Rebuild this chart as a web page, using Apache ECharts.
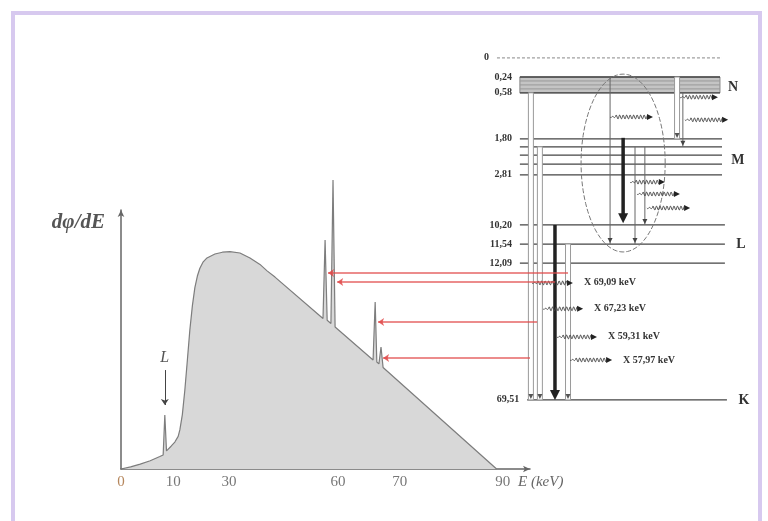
<!DOCTYPE html>
<html lang="en">
<head>
<meta charset="UTF-8">
<title>Spectre X et niveaux</title>
<script src="https://cdn.jsdelivr.net/npm/echarts@6/dist/echarts.min.js"></script>
<style>
body { margin: 0; background: #fff; }
.frame { position: absolute; left: 11px; top: 11px; width: 743px; height: 540px; border: 4px solid #d7c9ef; }
#main { position: absolute; left: 0; top: 0; width: 768px; height: 521px; }
</style>
</head>
<body>
<div class="frame"></div>
<div id="main"></div>
<script>
// spectrum: x in drawn keV, y in relative intensity
var specE = [0, 2.3, 4.6, 7.0, 9.3, 10.1, 10.5, 10.9, 12.0, 12.9, 13.7, 14.1, 14.7, 15.3, 15.9, 16.5, 17.1, 17.7, 18.3, 18.9, 19.7, 20.6, 22.5, 24.3, 26.1, 28.5, 30.9, 33.3, 35.0, 36.9, 48.4, 48.9, 49.4, 50.3, 50.8, 51.3, 60.4, 60.9, 61.3, 61.8, 62.3, 62.8, 90];
var specI = [0, 0.8, 1.9, 3.2, 4.8, 5.4, 20.8, 7.0, 8.8, 10.4, 12.6, 15.1, 21, 30.5, 42, 53.7, 63, 70.0, 74.5, 77.5, 80.0, 81.5, 83.0, 83.7, 83.9, 83.4, 81.5, 79.0, 76.5, 74.1, 58.1, 88.4, 57.4, 56.2, 111.6, 54.8, 42.1, 64.5, 41.3, 40.6, 47.1, 39.2, 0];
var xTickAt = [0, 12.5, 25.9, 52.0, 66.8, 91.5];
var xTickText = ['0', '10', '30', '60', '70', '90'];

// red arrows from the level scheme to the K peaks
var xrayFrom = [107.1, 104.0, 99.7, 98.0];
var xrayTo = [49.6, 51.8, 61.6, 62.8];
var xrayAt = [75.7, 72.2, 56.8, 42.9];

// "L" arrow: x, y start, y end
var lMark = [10.5, 38.2, 24.7];

// level scheme (schematic units)
var levelLabel = ['0', '0,24', '0,58', '1,80', '', '', '', '2,81', '10,20', '11,54', '12,09', '69,51'];
var levelY = [2.2, 7.5, 11.9, 24.7, 26.9, 29.2, 31.7, 34.7, 48.6, 53.9, 59.2, 97.2];
var levelX0 = [9.3, 17.2, 17.2, 17.2, 17.2, 17.2, 17.2, 17.2, 17.2, 17.2, 17.2, 19.7];
var levelX1 = [86.9, 86.2, 86.2, 86.9, 86.9, 86.9, 86.9, 86.9, 87.9, 87.9, 87.9, 88.6];
var nBand = [17.2, 86.2, 7.5, 11.9];
var shellName = ['N', 'M', 'L', 'K'];
var shellX = [90.7, 92.4, 93.4, 94.5];
var shellY = [10.3, 30.6, 53.9, 97.2];
var transX = [21.0, 24.1, 29.3, 33.8, 48.3, 52.8, 56.9, 60.3, 71.4, 73.4];
var transTop = [11.9, 26.9, 48.6, 53.9, 7.5, 24.4, 26.9, 26.9, 7.5, 11.9];
var transBottom = [97.2, 97.2, 97.2, 97.2, 53.9, 48.1, 53.9, 48.6, 24.7, 26.9];
var transKind = [0, 0, 1, 0, 2, 1, 2, 2, 0, 2];
var photonX0 = [21.4, 25.2, 30.0, 34.5, 48.3, 55.2, 57.6, 61.0, 72.4, 74.1];
var photonX1 = [35.5, 39.0, 43.8, 49.0, 63.1, 67.2, 72.4, 75.9, 85.5, 89.0];
var photonY = [64.7, 71.9, 79.7, 86.1, 18.6, 36.7, 40.0, 43.9, 13.1, 19.4];
var photonLabel = ['X 69,09 keV', 'X 67,23 keV', 'X 59,31 keV', 'X 57,97 keV', '', '', '', '', '', ''];
var ellipse = [52.8, 31.4, 14.5, 24.7];

var serif = '"Liberation Serif", "DejaVu Serif", serif';
var myChart = echarts.init(document.getElementById('main'));

function tri(x, y, w, h, up) {
    var d = up ? -h : h;
    return [[x - w / 2, y - d], [x + w / 2, y - d], [x, y]];
}

function renderLevel(params, api) {
    var i = params.dataIndex;
    var a = api.coord([api.value(0), api.value(2)]);
    var b = api.coord([api.value(1), api.value(2)]);
    var kids = [{
        type: 'line',
        shape: { x1: a[0], y1: a[1], x2: b[0], y2: b[1] },
        style: { stroke: i === 0 ? '#888' : '#444', lineWidth: i === 0 ? 1 : 1.3, lineDash: i === 0 ? [3, 2] : null }
    }];
    if (levelLabel[i]) {
        kids.push({
            type: 'text', x: a[0] - 8, y: a[1],
            style: { text: levelLabel[i], align: 'right', verticalAlign: 'middle', font: 'bold 10px ' + serif, fill: '#333' }
        });
    }
    return { type: 'group', children: kids };
}

function renderBand(params, api) {
    var a = api.coord([api.value(0), api.value(2)]);
    var b = api.coord([api.value(1), api.value(3)]);
    var kids = [{
        type: 'rect', shape: { x: a[0], y: a[1], width: b[0] - a[0], height: b[1] - a[1] },
        style: { fill: '#c4c4c4', stroke: '#888', lineWidth: 1 }
    }];
    for (var k = 1; k < 4; k++) {
        var y = a[1] + (b[1] - a[1]) * k / 4;
        kids.push({ type: 'line', shape: { x1: a[0], y1: y, x2: b[0], y2: y }, style: { stroke: '#999', lineWidth: 1 } });
    }
    return { type: 'group', children: kids };
}

function renderTrans(params, api) {
    var kind = transKind[params.dataIndex];
    var t = api.coord([api.value(0), api.value(1)]);
    var b = api.coord([api.value(0), api.value(2)]);
    if (kind === 0) {
        return { type: 'group', children: [
            { type: 'rect', shape: { x: t[0] - 2.5, y: t[1], width: 5, height: b[1] - t[1] }, style: { fill: '#fff', stroke: '#9a9a9a', lineWidth: 1 } },
            { type: 'polygon', shape: { points: tri(b[0], b[1] - 1, 5, 5, false) }, style: { fill: '#555' } }
        ] };
    }
    if (kind === 1) {
        return { type: 'group', children: [
            { type: 'line', shape: { x1: t[0], y1: t[1], x2: b[0], y2: b[1] - 8 }, style: { stroke: '#222', lineWidth: 3.5 } },
            { type: 'polygon', shape: { points: tri(b[0], b[1], 10, 10, false) }, style: { fill: '#222' } }
        ] };
    }
    return { type: 'group', children: [
        { type: 'line', shape: { x1: t[0], y1: t[1], x2: b[0], y2: b[1] }, style: { stroke: '#666', lineWidth: 1 } },
        { type: 'polygon', shape: { points: tri(b[0], b[1] - 1, 5, 5, false) }, style: { fill: '#444' } }
    ] };
}

function renderPhoton(params, api) {
    var i = params.dataIndex;
    var p0 = api.coord([api.value(0), api.value(2)]);
    var p1 = api.coord([api.value(1), api.value(2)]);
    var len = p1[0] - p0[0] - 5;
    var pts = [];
    for (var s = 0; s <= len; s += 0.5) {
        var amp = s < 6 ? 0.6 : 2;
        pts.push([p0[0] + s, p0[1] + amp * Math.sin(s / 3.5 * 2 * Math.PI)]);
    }
    var kids = [
        { type: 'polyline', shape: { points: pts }, style: { stroke: '#444', lineWidth: 0.9, fill: null } },
        { type: 'polygon', shape: { points: [[p1[0], p1[1]], [p1[0] - 6, p1[1] - 3], [p1[0] - 6, p1[1] + 3]] }, style: { fill: '#222' } }
    ];
    if (photonLabel[i]) {
        kids.push({
            type: 'text', x: p1[0] + 11, y: p1[1],
            style: { text: photonLabel[i], align: 'left', verticalAlign: 'middle', font: 'bold 10px ' + serif, fill: '#333' }
        });
    }
    return { type: 'group', children: kids };
}

function renderEllipse(params, api) {
    var c = api.coord([api.value(0), api.value(1)]);
    var r = api.size([api.value(2), api.value(3)]);
    var pts = [];
    for (var k = 0; k < 120; k++) {
        var a = k / 120 * 2 * Math.PI;
        pts.push([c[0] + r[0] * Math.cos(a), c[1] + r[1] * Math.sin(a)]);
    }
    return { type: 'polygon', shape: { points: pts }, style: { fill: null, stroke: '#777', lineWidth: 1, lineDash: [5, 2] } };
}

function renderShell(params, api) {
    var p = api.coord([api.value(0), api.value(1)]);
    return { type: 'text', x: p[0], y: p[1], style: { text: shellName[params.dataIndex], align: 'center', verticalAlign: 'middle', font: 'bold 14px ' + serif, fill: '#333' } };
}

var option = {
    animation: false,
    grid: [
        { left: 121, top: 210, width: 409, height: 259, containLabel: false, outerBoundsMode: 'none' },
        { left: 470, top: 50, width: 290, height: 360, containLabel: false, outerBoundsMode: 'none' }
    ],
    xAxis: [
        {
            type: 'value', gridIndex: 0, min: 0, max: 98,
            name: 'E (keV)', nameLocation: 'end', nameGap: -12,
            nameTextStyle: { fontFamily: serif, fontStyle: 'italic', fontSize: 15, color: '#666', verticalAlign: 'top', lineHeight: 26 },
            axisLine: { lineStyle: { color: '#666', width: 1.5 }, symbol: ['none', 'arrow'], symbolSize: [5, 7] },
            axisTick: { show: false },
            splitLine: { show: false },
            axisLabel: {
                customValues: xTickAt, margin: 6, color: '#777', fontFamily: serif, fontSize: 15,
                formatter: function (v) {
                    var i = xTickAt.indexOf(v);
                    return i === 0 ? '{o|' + xTickText[0] + '}' : xTickText[i];
                },
                rich: { o: { color: '#b5865c', fontFamily: serif, fontSize: 15 } }
            }
        },
        { type: 'value', gridIndex: 1, min: 0, max: 100, show: false }
    ],
    yAxis: [
        {
            type: 'value', gridIndex: 0, min: 0, max: 100,
            name: 'dφ/dE', nameLocation: 'end', nameGap: -13,
            nameTextStyle: { fontFamily: serif, fontStyle: 'italic', fontWeight: 'bold', fontSize: 21, color: '#555', align: 'right', verticalAlign: 'middle', padding: [0, 16, 0, 0] },
            axisLine: { show: true, lineStyle: { color: '#666', width: 1.5 }, symbol: ['none', 'arrow'], symbolSize: [5, 7] },
            axisTick: { show: false },
            axisLabel: { show: false },
            splitLine: { show: false }
        },
        { type: 'value', gridIndex: 1, min: 0, max: 100, inverse: true, show: false }
    ],
    series: [
        {
            type: 'line', xAxisIndex: 0, yAxisIndex: 0, clip: false, symbol: 'none', z: 2,
            data: specE.map(function (e, i) { return [e, specI[i]]; }),
            lineStyle: { color: '#7d7d7d', width: 1.2 },
            areaStyle: { color: '#d8d8d8', opacity: 1 },
            markLine: {
                silent: true, symbol: ['none', 'arrow'], symbolSize: 6,
                lineStyle: { color: '#444', width: 1, type: 'solid' },
                label: { show: true, position: 'start', formatter: 'L', fontFamily: serif, fontStyle: 'italic', fontSize: 16, color: '#555', distance: 4 },
                data: [[{ coord: [lMark[0], lMark[1]] }, { coord: [lMark[0], lMark[2]] }]]
            }
        },
        {
            type: 'custom', xAxisIndex: 1, yAxisIndex: 1, renderItem: renderBand, z: 3,
            data: [nBand]
        },
        {
            type: 'custom', xAxisIndex: 1, yAxisIndex: 1, renderItem: renderLevel, z: 3,
            data: levelY.map(function (y, i) { return [levelX0[i], levelX1[i], y]; })
        },
        {
            type: 'custom', xAxisIndex: 1, yAxisIndex: 1, renderItem: renderEllipse, z: 3,
            data: [ellipse]
        },
        {
            type: 'custom', xAxisIndex: 1, yAxisIndex: 1, renderItem: renderTrans, z: 4,
            data: transX.map(function (x, i) { return [x, transTop[i], transBottom[i]]; })
        },
        {
            type: 'custom', xAxisIndex: 1, yAxisIndex: 1, renderItem: renderPhoton, z: 5,
            data: photonY.map(function (y, i) { return [photonX0[i], photonX1[i], y]; })
        },
        {
            type: 'custom', xAxisIndex: 1, yAxisIndex: 1, renderItem: renderShell, z: 5,
            data: shellX.map(function (x, i) { return [x, shellY[i]]; })
        },
        {
            type: 'lines', coordinateSystem: 'cartesian2d', xAxisIndex: 0, yAxisIndex: 0, clip: false, z: 6,
            symbol: ['none', 'arrow'], symbolSize: 6,
            lineStyle: { color: '#e04a4a', width: 1.6, opacity: 0.85 },
            data: xrayFrom.map(function (x, i) { return { coords: [[x, xrayAt[i]], [xrayTo[i], xrayAt[i]]] }; })
        }
    ]
};
myChart.setOption(option);
</script>
</body>
</html>
